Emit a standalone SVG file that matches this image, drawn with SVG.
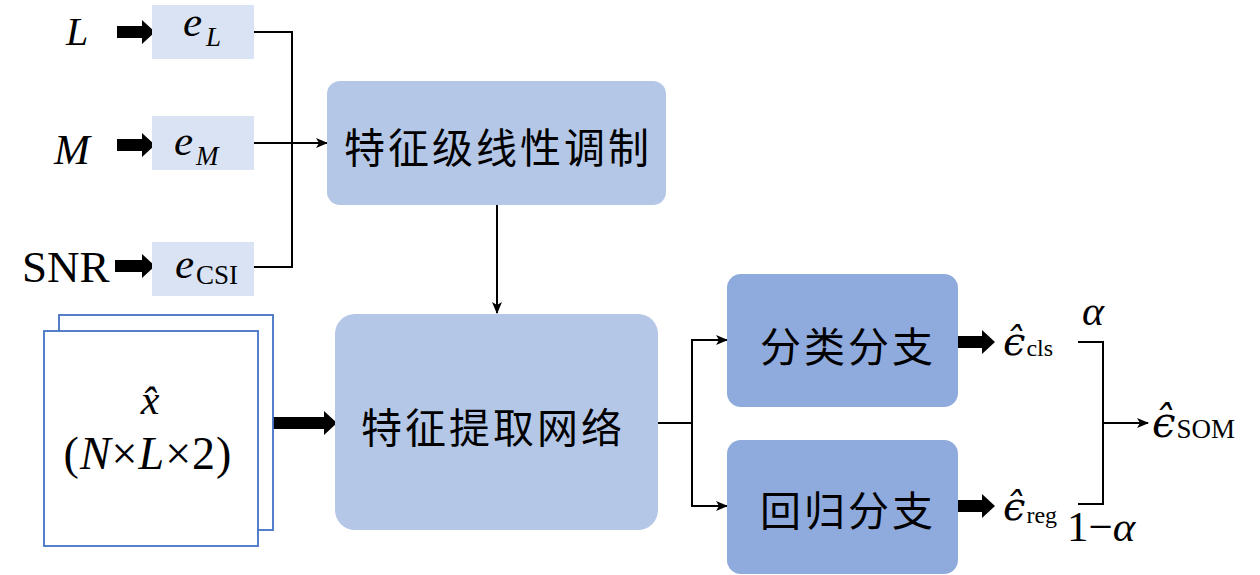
<svg xmlns="http://www.w3.org/2000/svg" width="1260" height="575" viewBox="0 0 1260 575">
<style>
.emb{fill:#dae3f3}
.mod{fill:#b4c7e7}
.br{fill:#8faadc}
.stk{fill:#fff;stroke:#4472c4;stroke-width:1.8}
.ln{fill:none;stroke:#000;stroke-width:2}
.blk{fill:#000}
.m{font-family:"Liberation Serif","DejaVu Serif",serif;fill:#000}
.e{font-family:"DejaVu Serif",serif;fill:#000}
.i{font-style:italic}
.cjk{font-family:"Noto Sans CJK SC","Noto Sans CJK JP",sans-serif;fill:#000;text-anchor:middle;dominant-baseline:central;font-size:41px;letter-spacing:3px}
</style>
<defs>
<marker id="ah" markerUnits="userSpaceOnUse" markerWidth="12" markerHeight="10" refX="11" refY="5" orient="auto">
<path d="M0,0 L12,5 L0,10 L3,5 Z" fill="#000"/>
</marker>
</defs>

<g id="connectors">
<path class="ln" d="M254,32 H292 V267 H254"/>
<path class="ln" d="M254,143 H327" marker-end="url(#ah)"/>
<path class="ln" d="M497,205 V313" marker-end="url(#ah)"/>
<path class="ln" d="M658,423 H692"/>
<path class="ln" d="M692,423 V340 H727" marker-end="url(#ah)"/>
<path class="ln" d="M692,423 V506 H727" marker-end="url(#ah)"/>
<path class="ln" d="M1078,342 H1103 V504 H1078"/>
<path class="ln" d="M1103,423 H1148" marker-end="url(#ah)"/>
<path class="blk" d="M117,26 H142 V20 L155,32 L142,44 V38 H117 Z"/>
<path class="blk" d="M117,139 H142 V133 L155,145 L142,157 V151 H117 Z"/>
<path class="blk" d="M115,260 H142 V254 L155,266 L142,278 V272 H115 Z"/>
<path class="blk" d="M273,417 H324 V411 L337,423 L324,435 V429 H273 Z"/>
<path class="blk" d="M958,336 H982 V330 L995,342 L982,354 V348 H958 Z"/>
<path class="blk" d="M958,500 H982 V494 L995,506 L982,518 V512 H958 Z"/>
</g>

<g id="input-L">
<text class="m i" x="66" y="45" font-size="40">L</text>
</g>
<g id="input-M">
<text class="m i" x="54" y="164" font-size="43">M</text>
</g>
<g id="input-SNR">
<text class="m" x="22" y="282" font-size="45">SNR</text>
</g>

<g id="emb-L">
<rect class="emb" x="152" y="5" width="102" height="54"/>
<text class="m i" x="183" y="36" font-size="43">e</text>
<text class="m i" x="206" y="46" font-size="27">L</text>
</g>
<g id="emb-M">
<rect class="emb" x="152" y="116" width="102" height="54"/>
<text class="m i" x="174" y="155" font-size="43">e</text>
<text class="m i" x="196" y="165" font-size="27">M</text>
</g>
<g id="emb-CSI">
<rect class="emb" x="152" y="242" width="102" height="54"/>
<text class="m i" x="175" y="278" font-size="43">e</text>
<text class="m" x="196" y="284" font-size="27">CSI</text>
</g>

<g id="modulation">
<rect class="mod" x="327" y="81" width="339" height="124" rx="13"/>
<text class="cjk" x="498" y="145">特征级线性调制</text>
</g>

<g id="input-x">
<rect class="stk" x="59" y="315" width="214" height="215"/>
<rect class="stk" x="44" y="331" width="214" height="215"/>
<text class="m i" x="150" y="414" font-size="42" text-anchor="middle">x̂</text>
<text class="m" x="148" y="469" font-size="46" text-anchor="middle" letter-spacing="1">(<tspan class="i">N</tspan>×<tspan class="i">L</tspan>×2)</text>
</g>

<g id="feature">
<rect class="mod" x="335" y="314" width="323" height="216" rx="20"/>
<text class="cjk" x="493" y="425">特征提取网络</text>
</g>

<g id="cls-branch">
<rect class="br" x="727" y="274" width="231" height="133" rx="14"/>
<text class="cjk" x="848" y="344">分类分支</text>
</g>
<g id="reg-branch">
<rect class="br" x="727" y="440" width="231" height="134" rx="14"/>
<text class="cjk" x="848" y="508">回归分支</text>
</g>

<g id="eps-cls">
<text class="e i" x="1003" y="355" font-size="40">ϵ̂<tspan class="m" font-style="normal" font-size="24" dx="1" dy="1">cls</tspan></text>
</g>
<g id="eps-reg">
<text class="e i" x="1003" y="520" font-size="40">ϵ̂<tspan class="m" font-style="normal" font-size="24" dx="1" dy="3">reg</tspan></text>
</g>
<g id="eps-som">
<text class="e i" x="1152" y="437" font-size="42">ϵ̂<tspan class="m" font-style="normal" font-size="27" dx="1" dy="1">SOM</tspan></text>
</g>
<g id="weights">
<text class="m i" x="1082" y="325" font-size="42">α</text>
<text class="m" x="1067" y="541" font-size="43">1−<tspan class="i">α</tspan></text>
</g>
</svg>
